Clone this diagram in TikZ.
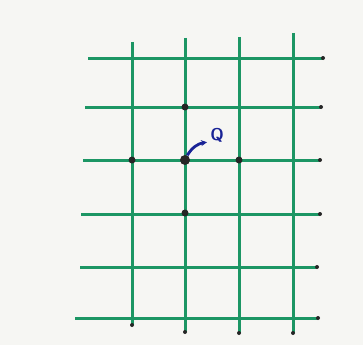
\documentclass[tikz,border=0pt]{standalone}
\usepackage{xcolor}
\usepackage{tikz}
\usetikzlibrary{arrows.meta,positioning}
\definecolor{gridgreen}{RGB}{28,150,100}
\definecolor{inkblue}{RGB}{25,35,150}
\definecolor{paper}{RGB}{246,246,243}

\begin{document}
\begin{tikzpicture}[x=1pt, y=-1pt,
    gridline/.style={draw=gridgreen, line width=3pt},
    tip/.style={fill=black!85, circle, inner sep=0pt, minimum size=4pt},
    site/.style={fill=black!85, circle, inner sep=0pt, minimum size=7pt},
    arrow/.style={-{Stealth[length=6pt, width=6pt]}, draw=inkblue, line width=2.8pt}]

    % Paper
    \fill[paper] (0,0) rectangle (363,345);
    \useasboundingbox (0,0) rectangle (363,345);

    % Horizontal lines
    \foreach \y/\l/\r in {58/88/323, 107/85/321, 160/83/320, 214/81/320, 267/80/317, 318/75/318} {
        \draw[gridline] (\l,\y) -- (\r,\y);
        \node[tip] at (\r,\y) {};
    }

    % Vertical lines
    \foreach \x/\t/\b in {132/42/325, 185/38/332, 239/37/333, 293/33/333} {
        \draw[gridline] (\x,\t) -- (\x,\b);
        \node[tip] at (\x,\b) {};
    }

    % Lattice sites
    \node[site, minimum size=10pt] (centre) at (185,160) {};
    \node[site] (up) at (185,107) {};
    \node[site] (down) at (185,213) {};
    \node[site] (left) at (132,160) {};
    \node[site] (right) at (239,160) {};

    % Label
    \node[text=inkblue, inner sep=1pt, font=\sffamily\bfseries\fontsize{17}{17}\selectfont] (q) at (217,135) {Q};
    \draw[arrow] (centre) to[bend left=25] ([xshift=-2pt,yshift=1pt]q.south west);

\end{tikzpicture}
\end{document}
